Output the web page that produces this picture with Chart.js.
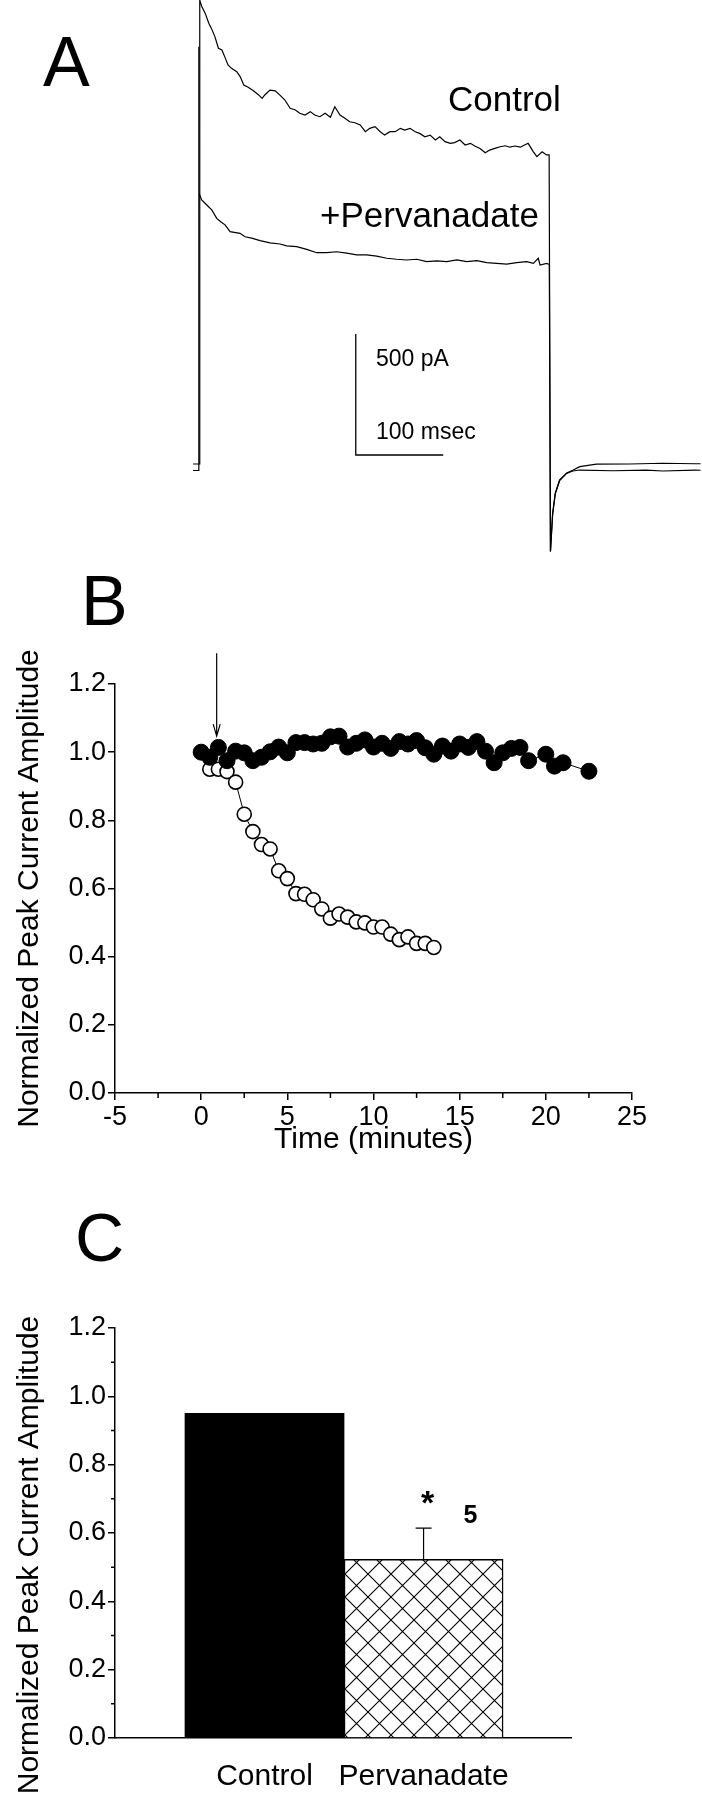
<!DOCTYPE html>
<html>
<head>
<meta charset="utf-8">
<script src="https://cdn.jsdelivr.net/npm/chart.js@4.4.1/dist/chart.umd.min.js"></script>
<style>
  html, body { margin: 0; padding: 0; background: #fff; }
  body { position: relative; width: 702px; height: 1800px; overflow: hidden; }
  canvas { position: absolute; left: 0; }
</style>
</head>
<body>
<canvas id="panelA" width="702" height="560" style="top:0;width:702px;height:560px"></canvas>
<canvas id="panelB" width="702" height="600" style="top:560px;width:702px;height:600px"></canvas>
<canvas id="panelC" width="702" height="640" style="top:1160px;width:702px;height:640px"></canvas>
<script>
// ---- panel A: current traces (time in ms, current in pA) ----
const ctlTime = [-8, -0.5, -0.3, 2, 6, 10, 13, 17, 21, 25, 29, 32, 36, 42, 46, 50, 55, 61, 67, 71, 74, 80, 86, 91, 97,
  103, 109, 114, 120, 126, 131, 137, 143, 149, 154, 160, 166, 171, 177, 183, 189, 194, 200, 206, 211, 217, 223,
  229, 234, 240, 246, 251, 257, 263, 269, 274, 280, 286, 291, 297, 303, 309, 314, 320, 326, 331, 337, 343, 349,
  354, 360, 366, 371, 375, 381, 385, 391, 396, 399,
  400.5, 403, 406, 411, 419, 426, 434, 453, 491, 529, 566, 572];
const ctlCurrent = [29, 29, 1946, 1919, 1891, 1850, 1829, 1795, 1747, 1740, 1705, 1678, 1664, 1650, 1629, 1595, 1586,
  1571, 1554, 1540, 1554, 1574, 1571, 1554, 1533, 1499, 1492, 1478, 1471, 1485, 1471, 1464, 1478, 1462, 1505,
  1471, 1457, 1443, 1439, 1430, 1402, 1416, 1423, 1402, 1388, 1402, 1402, 1416, 1409, 1416, 1402, 1395, 1381,
  1388, 1368, 1381, 1361, 1354, 1357, 1368, 1347, 1354, 1343, 1333, 1315, 1326, 1333, 1340, 1344, 1338, 1343,
  1338, 1347, 1354, 1319, 1299, 1319, 1306, 1306,
  -333, -174, -91, -37, -8, 3, 18, 28, 29, 32, 30, 30];

const pvTime = [-8, -1.6, -1.5, -1.2, 1.9, 7.7, 13.4, 19.1, 24, 28.6, 34.3, 45.7, 51.4, 59.1, 68.6, 80, 91.4, 99.1,
  110.5, 121.9, 133.4, 144.8, 156.2, 167.7, 179.1, 190.5, 201.9, 213.4, 224.8, 236.2, 247.7, 259.1, 270.5,
  281.9, 293.4, 304.8, 316.2, 327.7, 339.1, 350.5, 361.9, 373.4, 380.9, 386.6, 388.6, 396.2, 399.2,
  400.5, 403, 406, 411, 419, 426, 434, 472, 510, 529, 566, 572];
const pvCurrent = [2, 2, 1753, 1150, 1120, 1099, 1079, 1044, 1029, 1017, 989, 982, 968, 962, 952, 943, 938, 930,
  927, 916, 902, 902, 906, 900, 893, 893, 888, 879, 875, 872, 875, 865, 868, 865, 872, 865, 869, 861, 858,
  855, 861, 865, 858, 879, 851, 858, 854,
  -333, -180, -95, -40, -10, 0, 4, 1, 4, 0, 4, 3];

// scale bar: 100 msec x 500 pA
const scaleBarTime = [178, 178, 278];
const scaleBarCurrent = [566, 66, 66];

// ---- panel B: normalized peak current vs time (minutes) ----
const bCtlTime = [0, 0.5, 1, 1.5, 2, 2.5, 3, 3.5, 4, 4.5, 5, 5.5, 6, 6.5, 7, 7.5, 8, 8.5, 9, 9.5, 10, 10.5,
  11, 11.5, 12, 12.5, 13, 13.5, 14, 14.5, 15, 15.5, 16, 16.5, 17, 17.5, 18, 18.5, 19, 20, 20.5, 21, 22.5];
const bCtlValue = [1.00, 0.985, 1.014, 0.975, 1.003, 0.998, 0.975, 0.985, 1.001, 1.015, 0.998, 1.028, 1.028,
  1.024, 1.026, 1.045, 1.047, 1.015, 1.026, 1.036, 1.015, 1.026, 1.011, 1.031, 1.024, 1.034, 1.013, 0.994,
  1.018, 1.003, 1.024, 1.014, 1.031, 1.003, 0.969, 0.998, 1.011, 1.014, 0.975, 0.994, 0.959, 0.969, 0.944];
const bPvTime = [0.5, 1, 1.5, 2, 2.5, 3, 3.5, 4, 4.5, 5, 5.5, 6, 6.5, 7, 7.5, 8, 8.5, 9, 9.5, 10, 10.5, 11,
  11.5, 12, 12.5, 13, 13.5];
const bPvValue = [0.95, 0.95, 0.943, 0.912, 0.818, 0.767, 0.729, 0.716, 0.652, 0.629, 0.585, 0.583, 0.567,
  0.540, 0.513, 0.525, 0.516, 0.502, 0.499, 0.487, 0.487, 0.466, 0.450, 0.458, 0.439, 0.439, 0.427];
const bMinorTicks = [-2.5, 2.5, 7.5, 12.5, 17.5, 22.5];
const bArrow = { time: 0.9, from: 1.29, to: 1.047 };

// ---- panel C: bar summary ----
const cCategories = ['Control', 'Pervanadate'];
const cValues = [0.95, 0.523];
const cErrors = [0, 0.091];
const cMinorTicks = [0.1, 0.3, 0.5, 0.7, 0.9, 1.1];

const FONT = 'Liberation Sans, Arial, Helvetica, sans-serif';
Chart.defaults.font.family = FONT;
Chart.defaults.color = '#000';
Chart.defaults.animation = false;
Chart.defaults.plugins.legend.display = false;
Chart.defaults.plugins.tooltip.enabled = false;

const pts = (xs, ys) => xs.map((x, i) => ({ x, y: ys[i] }));

function textPlugin(items) {
  return {
    id: 'panelText',
    afterDraw(chart) {
      const ctx = chart.ctx;
      ctx.save();
      ctx.fillStyle = '#000';
      ctx.textBaseline = 'alphabetic';
      items.forEach(t => {
        ctx.font = t.font + ' ' + FONT;
        ctx.textAlign = t.align || 'left';
        ctx.fillText(t.text, t.x, t.y);
      });
      ctx.restore();
    }
  };
}

const axisBase = {
  border: { display: true, color: '#000', width: 1.5 },
  grid: { drawOnChartArea: false, drawTicks: true, tickLength: 7, color: '#000', lineWidth: 1.5 },
};

// ---------- A ----------
new Chart(document.getElementById('panelA'), {
  type: 'scatter',
  data: {
    datasets: [
      { data: pts(ctlTime, ctlCurrent), showLine: true, borderColor: '#000', borderWidth: 1.2, pointRadius: 0 },
      { data: pts(pvTime, pvCurrent), showLine: true, borderColor: '#000', borderWidth: 1.2, pointRadius: 0 },
      { data: pts(scaleBarTime, scaleBarCurrent), showLine: true, borderColor: '#000', borderWidth: 1.3, pointRadius: 0 }
    ]
  },
  options: {
    responsive: false,
    devicePixelRatio: 1,
    layout: { padding: 0 },
    scales: {
      x: { type: 'linear', display: false, min: -228.6, max: 573.7 },
      y: { type: 'linear', display: false, min: -367.8, max: 1946.3 }
    }
  },
  plugins: [textPlugin([
    { text: 'A', x: 43, y: 86, font: '70px' },
    { text: 'Control', x: 448, y: 111, font: '35px' },
    { text: '+Pervanadate', x: 320, y: 227, font: '35px' },
    { text: '500 pA', x: 376, y: 366, font: '23px' },
    { text: '100 msec', x: 376, y: 439, font: '23px' }
  ])]
});

// ---------- B ----------
const bExtras = {
  id: 'bExtras',
  afterDraw(chart) {
    const { ctx, scales: { x, y }, chartArea } = chart;
    ctx.save();
    ctx.strokeStyle = '#000';
    ctx.lineWidth = 1.5;
    ctx.beginPath();
    bMinorTicks.forEach(v => {
      const px = x.getPixelForValue(v);
      ctx.moveTo(px, chartArea.bottom);
      ctx.lineTo(px, chartArea.bottom + 5);
    });
    ctx.stroke();
    // arrow marking drug application
    const ax = x.getPixelForValue(bArrow.time);
    const y0 = y.getPixelForValue(bArrow.from);
    const y1 = y.getPixelForValue(bArrow.to);
    ctx.lineWidth = 1.2;
    ctx.beginPath();
    ctx.moveTo(ax, y0);
    ctx.lineTo(ax, y1);
    ctx.moveTo(ax - 3.5, y1 - 12);
    ctx.lineTo(ax, y1);
    ctx.lineTo(ax + 3.5, y1 - 12);
    ctx.stroke();
    ctx.restore();
  }
};

new Chart(document.getElementById('panelB'), {
  type: 'scatter',
  data: {
    datasets: [
      {
        data: pts(bCtlTime, bCtlValue), showLine: true, borderColor: '#000', borderWidth: 1,
        pointRadius: 8, pointBackgroundColor: '#000', pointBorderColor: '#000', pointBorderWidth: 1, order: 0
      },
      {
        data: pts(bPvTime, bPvValue), showLine: true, borderColor: '#000', borderWidth: 1,
        pointRadius: 7, pointBackgroundColor: '#fff', pointBorderColor: '#000', pointBorderWidth: 1.6, order: 1
      }
    ]
  },
  options: {
    responsive: false,
    devicePixelRatio: 1,
    layout: { padding: { top: 124, right: 70, left: 0, bottom: 0 } },
    scales: {
      x: {
        ...axisBase,
        type: 'linear', min: -5, max: 25,
        ticks: { stepSize: 5, font: { size: 27 }, padding: 1, autoSkip: false, maxRotation: 0 },
        title: { display: true, text: 'Time (minutes)', font: { size: 30 }, padding: { top: 0, bottom: 2 } },
        afterFit: s => { s.height = 67; }
      },
      y: {
        ...axisBase,
        type: 'linear', min: 0, max: 1.2,
        ticks: { stepSize: 0.2, font: { size: 27 }, padding: 2, callback: v => v.toFixed(1) },
        title: { display: true, text: 'Normalized Peak Current Amplitude', font: { size: 30 }, padding: { top: 12, bottom: 0 } },
        afterFit: s => { s.width = 115; }
      }
    }
  },
  plugins: [bExtras, textPlugin([{ text: 'B', x: 81, y: 65, font: '70px' }])]
});

// ---------- C ----------
function crossHatch(ctx) {
  const size = 23;
  const c = document.createElement('canvas');
  c.width = size; c.height = size;
  const g = c.getContext('2d');
  g.fillStyle = '#fff';
  g.fillRect(0, 0, size, size);
  g.strokeStyle = '#000';
  g.lineWidth = 1.1;
  g.beginPath();
  [-size, 0, size].forEach(o => {
    g.moveTo(o, 0); g.lineTo(o + size, size);
    g.moveTo(o + size, 0); g.lineTo(o, size);
  });
  g.stroke();
  return ctx.createPattern(c, 'repeat');
}

const cCanvas = document.getElementById('panelC');
const hatch = crossHatch(cCanvas.getContext('2d'));

const cExtras = {
  id: 'cExtras',
  afterDraw(chart) {
    const { ctx, scales: { x, y }, chartArea } = chart;
    ctx.save();
    ctx.strokeStyle = '#000';
    ctx.lineWidth = 1.5;
    ctx.beginPath();
    cMinorTicks.forEach(v => {
      const py = y.getPixelForValue(v);
      ctx.moveTo(chartArea.left - 4, py);
      ctx.lineTo(chartArea.left, py);
    });
    ctx.stroke();
    // error bars (mean + SEM)
    ctx.lineWidth = 1.2;
    cValues.forEach((v, i) => {
      if (!cErrors[i]) return;
      const px = x.getPixelForValue(i);
      const top = y.getPixelForValue(v + cErrors[i]);
      ctx.beginPath();
      ctx.moveTo(px, y.getPixelForValue(v));
      ctx.lineTo(px, top);
      ctx.moveTo(px - 8, top);
      ctx.lineTo(px + 8, top);
      ctx.stroke();
      ctx.fillStyle = '#000';
      ctx.textAlign = 'center';
      ctx.font = 'bold 34px ' + FONT;
      ctx.fillText('*', px + 4, top - 14);
      ctx.font = 'bold 25px ' + FONT;
      ctx.fillText('5', px + 47, top - 5);
    });
    // y axis title
    ctx.translate(30, (chartArea.top + chartArea.bottom) / 2 + 22);
    ctx.rotate(-Math.PI / 2);
    ctx.font = '30px ' + FONT;
    ctx.textAlign = 'center';
    ctx.textBaseline = 'middle';
    ctx.fillText('Normalized Peak Current Amplitude', 0, 0);
    ctx.restore();
  }
};

new Chart(cCanvas, {
  type: 'bar',
  data: {
    datasets: [{
      data: pts(cCategories.map((_, i) => i), cValues),
      backgroundColor: ['#000', hatch],
      borderColor: '#000',
      borderWidth: [0, 1.5],
      barPercentage: 1,
      categoryPercentage: 1
    }]
  },
  options: {
    responsive: false,
    devicePixelRatio: 1,
    layout: { padding: { top: 168, right: 130.5, left: 0, bottom: 0 } },
    scales: {
      x: {
        type: 'linear', min: -0.94, max: 1.93, offset: false,
        border: { display: true, color: '#000', width: 1.5 },
        grid: { display: true, drawOnChartArea: false, drawTicks: false, offset: false },
        afterBuildTicks: s => { s.ticks = cCategories.map((_, i) => ({ value: i })); },
        ticks: { font: { size: 30 }, padding: 21, autoSkip: false, maxRotation: 0, callback: (v, i) => cCategories[i] },
        afterFit: s => { s.height = 62; }
      },
      y: {
        ...axisBase,
        type: 'linear', min: 0, max: 1.2,
        ticks: { stepSize: 0.2, font: { size: 27 }, padding: 2, callback: v => v.toFixed(1) },
        afterFit: s => { s.width = 115; }
      }
    }
  },
  plugins: [cExtras, textPlugin([{ text: 'C', x: 75, y: 101, font: '68px' }])]
});
</script>
</body>
</html>
